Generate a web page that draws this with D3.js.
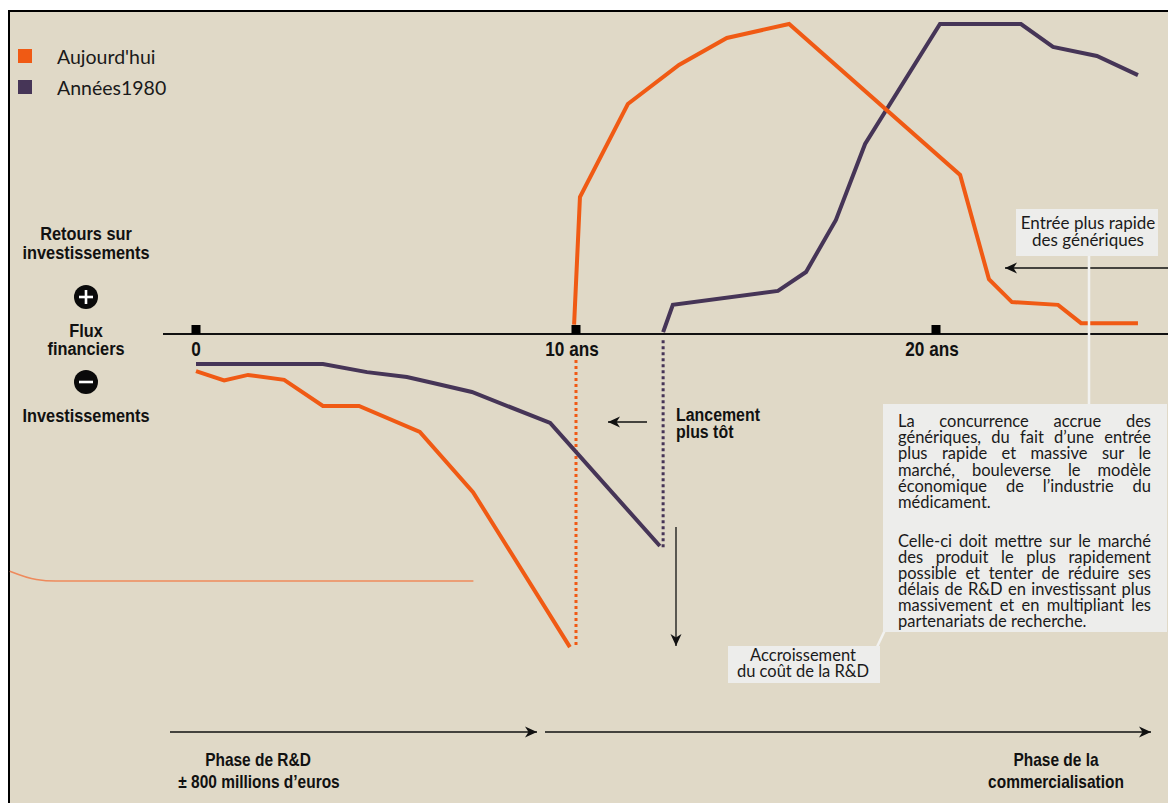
<!DOCTYPE html>
<html lang="fr">
<head>
<meta charset="utf-8">
<title>Flux financiers du médicament</title>
<script src="https://cdn.jsdelivr.net/npm/d3@7"></script>
<style>
  html, body { margin: 0; padding: 0; background: #ffffff; }
  svg { display: block; }
  .cond { font-family: "Liberation Sans", Arial, sans-serif; font-weight: bold; fill: #111; }
  .hum { font-family: Lato, "Open Sans", sans-serif; fill: #1a1a1a; }
</style>
</head>
<body>
<svg id="chart" width="1168" height="803"></svg>
<script>
// Years since start of development, and net cash flow (index: 100 = peak return)
const seriesNames = ["Aujourd'hui", "Années1980"];
const seriesColors = ["#f05a14", "#463557"];

// Aujourd'hui — R&D investment phase
const todayInvestYears  = [0, 0.74, 1.37, 2.32, 3.34, 4.29, 5.89, 7.29, 9.84];
const todayInvestValues = [-12, -15, -13.2, -14.8, -23.2, -23.2, -31.6, -51, -101];
// Aujourd'hui — commercial phase
const todayReturnYears  = [9.95, 10.11, 11.44, 12.86, 14.19, 15.92, 20.67, 21.47, 22.11, 23.39, 24.03, 25.61];
const todayReturnValues = [3, 44.2, 74.2, 86.8, 95.5, 100, 51.3, 17.7, 10.3, 9.4, 3.5, 3.5];

// Années 1980 — R&D investment phase
const pastInvestYears  = [0, 3.34, 4.5, 5.55, 6.24, 7.26, 9.32, 12.33];
const pastInvestValues = [-9.7, -9.7, -12.3, -13.9, -15.8, -18.7, -28.7, -68.4];
// Années 1980 — commercial phase
const pastReturnYears  = [12.42, 12.69, 15.61, 16.39, 17.22, 18.03, 20.11, 22.36, 23.25, 24.47, 25.61];
const pastReturnValues = [0.6, 9.4, 13.9, 20, 36.8, 61.3, 100, 100, 92.6, 89.7, 83.5];

// Launch date drop lines: [year, top value, bottom value]
const todayLaunch = [10, -8.4, -101];
const pastLaunch  = [12.42, -2, -69.7];

// Reference line under the investment curves
const refLineYears  = [-4.9, -4.2, -3.7, 7.3];
const refLineValues = [-76.5, -79.2, -79.7, -79.7];

// Axis ticks
const tickYears  = [0, 10, 20];
const tickLabels = ["0", "10 ans", "20 ans"];

const svg = d3.select("#chart");

// Scales: the time axis is drawn with a slightly longer first decade
const x = d3.scaleLinear().domain([0, 10, 20]).range([196, 576, 936]);
const y = d3.scaleLinear().domain([-100, 100]).range([644, 24]);

// Condensed bold label, squeezed horizontally
const SQ = 0.86;
function cond(parent, tx, ty, str, size, anchor) {
  return parent.append("text").attr("class", "cond")
    .attr("transform", `translate(${tx},${ty}) scale(${SQ},1)`)
    .attr("font-size", size).attr("text-anchor", anchor || "start").text(str);
}

// Panel background with top and left rule
svg.append("rect").attr("x", 9).attr("y", 11).attr("width", 1159).attr("height", 792).attr("fill", "#e0d9c7");
svg.append("line").attr("x1", 8).attr("x2", 1168).attr("y1", 11).attr("y2", 11).attr("stroke", "#000").attr("stroke-width", 2);
svg.append("line").attr("x1", 9).attr("x2", 9).attr("y1", 10).attr("y2", 803).attr("stroke", "#000").attr("stroke-width", 2);

// Arrowhead marker
const defs = svg.append("defs");
defs.append("marker")
  .attr("id", "head").attr("viewBox", "-12 -6 12 12")
  .attr("refX", 0).attr("refY", 0)
  .attr("markerWidth", 12).attr("markerHeight", 12)
  .attr("markerUnits", "userSpaceOnUse").attr("orient", "auto")
  .append("path").attr("d", "M-12,-5.5 L0,0 L-12,5.5 L-8.5,0 Z").attr("fill", "#111");

const line = d3.line().x(d => x(d[0])).y(d => y(d[1]));
const pairs = (xs, vs) => xs.map((v, i) => [v, vs[i]]);

// Thin reference line
svg.append("path")
  .datum(pairs(refLineYears, refLineValues))
  .attr("d", d3.line().x(d => x(d[0])).y(d => y(d[1])).curve(d3.curveMonotoneX))
  .attr("fill", "none").attr("stroke", "#ee8a5c").attr("stroke-width", 1.6);

// Zero axis
svg.append("line").attr("x1", 163).attr("x2", 1168).attr("y1", y(0)).attr("y2", y(0))
  .attr("stroke", "#111").attr("stroke-width", 2);

const ticks = svg.append("g");
tickYears.forEach((t, i) => {
  ticks.append("rect").attr("x", x(t) - 4.5).attr("y", y(0) - 9).attr("width", 9).attr("height", 9).attr("fill", "#000");
  cond(ticks, x(t) - (i === 0 ? 0 : 4), y(0) + 22, tickLabels[i], 20, "middle");
});

// Launch drop lines (dotted)
[[todayLaunch, 0], [pastLaunch, 1]].forEach(([d, s]) => {
  svg.append("line").attr("x1", x(d[0])).attr("x2", x(d[0])).attr("y1", y(d[1])).attr("y2", y(d[2]))
    .attr("stroke", seriesColors[s]).attr("stroke-width", 3).attr("stroke-dasharray", "3,3");
});

// Series curves
const curves = [
  [pairs(pastInvestYears, pastInvestValues), 1],
  [pairs(pastReturnYears, pastReturnValues), 1],
  [pairs(todayInvestYears, todayInvestValues), 0],
  [pairs(todayReturnYears, todayReturnValues), 0]
];
curves.forEach(([d, s]) => {
  svg.append("path").datum(d).attr("d", line)
    .attr("fill", "none").attr("stroke", seriesColors[s]).attr("stroke-width", 4)
    .attr("stroke-linejoin", "miter").attr("stroke-linecap", "butt");
});

// Legend
const legend = svg.append("g");
seriesNames.forEach((n, i) => {
  legend.append("rect").attr("x", 18).attr("y", 49 + i * 31).attr("width", 14).attr("height", 14).attr("fill", seriesColors[i]);
  legend.append("text").attr("class", "hum").attr("x", 57).attr("y", 64 + i * 31).attr("font-size", 19.5).text(n);
});

// Left side labels
const left = svg.append("g");
[["Retours sur", 240], ["investissements", 259], ["Flux", 337], ["financiers", 355], ["Investissements", 422]]
  .forEach(([t, yy]) => cond(left, 86, yy, t, 19, "middle"));
function sign(cy, plus) {
  const g = svg.append("g");
  g.append("circle").attr("cx", 86).attr("cy", cy).attr("r", 12).attr("fill", "#0a0a0a");
  g.append("line").attr("x1", 79).attr("x2", 93).attr("y1", cy).attr("y2", cy).attr("stroke", "#fff").attr("stroke-width", 2.6);
  if (plus) g.append("line").attr("x1", 86).attr("x2", 86).attr("y1", cy - 7).attr("y2", cy + 7).attr("stroke", "#fff").attr("stroke-width", 2.6);
}
sign(297, true);
sign(382, false);

// "Lancement plus tôt"
svg.append("line").attr("x1", 647).attr("x2", 608).attr("y1", 422).attr("y2", 422)
  .attr("stroke", "#111").attr("stroke-width", 1.3).attr("marker-end", "url(#head)");
cond(svg, 676, 421, "Lancement", 18.5);
cond(svg, 676, 438, "plus tôt", 18.5);

// Cost increase arrow
svg.append("line").attr("x1", 676).attr("x2", 676).attr("y1", 527).attr("y2", 646)
  .attr("stroke", "#111").attr("stroke-width", 1.3).attr("marker-end", "url(#head)");

// Generics arrow
svg.append("line").attr("x1", 1168).attr("x2", 1005).attr("y1", 268).attr("y2", 268)
  .attr("stroke", "#111").attr("stroke-width", 1.3).attr("marker-end", "url(#head)");

// Callout connectors
const boxFill = "#ededeb";
svg.append("line").attr("x1", 1089).attr("x2", 1089).attr("y1", 255).attr("y2", 405).attr("stroke", "#f2f2f0").attr("stroke-width", 2.5);
svg.append("line").attr("x1", 885).attr("x2", 877).attr("y1", 630).attr("y2", 647).attr("stroke", "#f2f2f0").attr("stroke-width", 2.5);

// Generics callout
svg.append("rect").attr("x", 1016).attr("y", 209).attr("width", 142).attr("height", 47).attr("fill", boxFill);
const gen = svg.append("g").attr("class", "hum").attr("font-size", 17).attr("text-anchor", "middle");
gen.append("text").attr("x", 1088).attr("y", 229).text("Entrée plus rapide");
gen.append("text").attr("x", 1088).attr("y", 246).text("des génériques");

// R&D cost callout
svg.append("rect").attr("x", 728).attr("y", 646).attr("width", 152).attr("height", 37).attr("fill", boxFill);
const rd = svg.append("g").attr("class", "hum").attr("font-size", 16.5).attr("text-anchor", "middle");
rd.append("text").attr("x", 803).attr("y", 661).text("Accroissement");
rd.append("text").attr("x", 803).attr("y", 677).text("du coût de la R&D");

// Main justified text block
svg.append("rect").attr("x", 883).attr("y", 404).attr("width", 284).attr("height", 228).attr("fill", boxFill);
const para1 = [
  "La concurrence accrue des",
  "génériques, du fait d’une entrée",
  "plus rapide et massive sur le",
  "marché, bouleverse le modèle",
  "économique de l’industrie du",
  "médicament."
];
const para2 = [
  "Celle-ci doit mettre sur le marché",
  "des produit le plus rapidement",
  "possible et tenter de réduire ses",
  "délais de R&D en investissant plus",
  "massivement et en multipliant les",
  "partenariats de recherche."
];
const textLeft = 898, textWidth = 253;
const block = svg.append("g").attr("class", "hum");

// Pick the largest size at which every line fits, allowing slightly tighter spaces
function fitSize(allLines, maxSize) {
  const probe = block.append("text");
  let size = maxSize;
  for (; size > 10; size -= 0.25) {
    probe.attr("font-size", size);
    const ok = allLines.every(ln => {
      probe.text(ln);
      const spaces = ln.split(" ").length - 1;
      return probe.node().getComputedTextLength() - 1 * spaces <= textWidth;
    });
    if (ok) break;
  }
  probe.remove();
  return size;
}
const bodySize = fitSize(para1.concat(para2), 16.5);

// Each line is one text; justification is done through word-spacing
function justified(lines, y0, lh) {
  lines.forEach((ln, i) => {
    const t = block.append("text").attr("font-size", bodySize)
      .attr("x", textLeft).attr("y", y0 + i * lh).text(ln);
    const spaces = ln.split(" ").length - 1;
    const last = i === lines.length - 1;
    if (!last && spaces > 0) {
      const extra = (textWidth - t.node().getComputedTextLength()) / spaces;
      t.style("word-spacing", extra + "px");
    }
  });
}
justified(para1, 427, 16.2);
justified(para2, 547, 16);

// Phase arrows
svg.append("line").attr("x1", 170).attr("x2", 537).attr("y1", 732).attr("y2", 732)
  .attr("stroke", "#111").attr("stroke-width", 1.5).attr("marker-end", "url(#head)");
svg.append("line").attr("x1", 545).attr("x2", 1151).attr("y1", 732).attr("y2", 732)
  .attr("stroke", "#111").attr("stroke-width", 1.5).attr("marker-end", "url(#head)");
const ph = svg.append("g");
cond(ph, 258, 766, "Phase de R&D", 18, "middle");
cond(ph, 259, 788, "± 800 millions d’euros", 18, "middle");
cond(ph, 1056, 766, "Phase de la", 18, "middle");
cond(ph, 1056, 788, "commercialisation", 18, "middle");
</script>
</body>
</html>
